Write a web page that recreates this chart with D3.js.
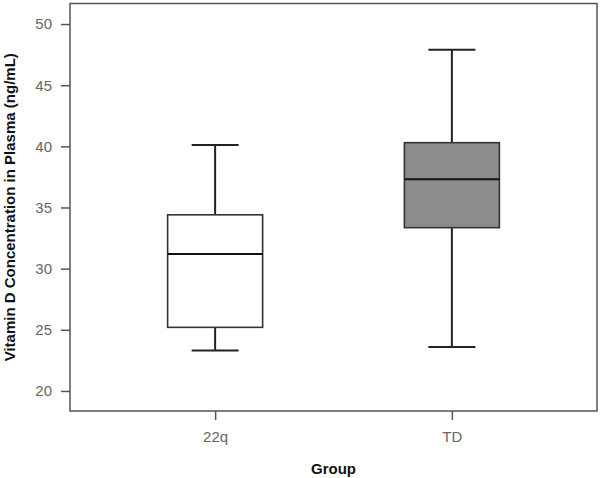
<!DOCTYPE html>
<html>
<head>
<meta charset="utf-8">
<script src="https://cdn.jsdelivr.net/npm/d3@7"></script>
<style>
  body { margin: 0; background: #fff; }
  text { font-family: "Liberation Sans", Arial, sans-serif; }
</style>
</head>
<body>
<div id="chart"></div>
<script>
// data
var groups = ['22q', 'TD'];
var whiskerLow = [23.3, 23.6];
var quart1 = [25.2, 33.35];
var medians = [31.2, 37.3];
var quart3 = [34.4, 40.3];
var whiskerHigh = [40.1, 47.9];
var fills = ['#ffffff', '#8c8c8c'];
var yTicks = [20, 25, 30, 35, 40, 45, 50];

var width = 600;
var height = 478;
var margin = {left: 70, right: 3, top: 3.5, bottom: 67};

var svg = d3.select('#chart')
            .append('svg')
            .attr('width', width)
            .attr('height', height);

var x = d3.scalePoint()
          .domain(groups)
          .range([margin.left, width - margin.right])
          .padding(0.613);

var y = d3.scaleLinear()
          .domain([18.36, 51.68])
          .range([height - margin.bottom, margin.top]);

var boxW = 95;
var capW = 47;

// frame
svg.append('rect')
   .attr('x', margin.left)
   .attr('y', margin.top)
   .attr('width', width - margin.left - margin.right)
   .attr('height', height - margin.top - margin.bottom)
   .attr('fill', 'none')
   .attr('stroke', '#555')
   .attr('stroke-width', 1.5);

// axes
var yAxis = svg.append('g')
   .attr('transform', 'translate(' + margin.left + ',0)')
   .call(d3.axisLeft(y).tickValues(yTicks).tickSize(9).tickPadding(9));

var xAxis = svg.append('g')
   .attr('transform', 'translate(0,' + (height - margin.bottom) + ')')
   .call(d3.axisBottom(x).tickSize(9).tickPadding(11));

[yAxis, xAxis].forEach(function(g){
    g.select('.domain').remove();
    g.selectAll('line').attr('stroke', '#555').attr('stroke-width', 1.5);
    g.selectAll('text')
     .attr('fill', '#666')
     .style('font-size', '15px')
     .style('font-family', '"Liberation Sans", Arial, sans-serif');
});

// boxes
var boxes = svg.selectAll('g.box')
   .data(groups)
   .enter()
   .append('g')
   .attr('class', 'box');

boxes.append('line')
     .attr('x1', function(d){ return x(d); })
     .attr('x2', function(d){ return x(d); })
     .attr('y1', function(d, i){ return y(whiskerLow[i]); })
     .attr('y2', function(d, i){ return y(whiskerHigh[i]); })
     .attr('stroke', '#222')
     .attr('stroke-width', 2);

[whiskerLow, whiskerHigh].forEach(function(arr){
    boxes.append('line')
         .attr('x1', function(d){ return x(d) - capW / 2; })
         .attr('x2', function(d){ return x(d) + capW / 2; })
         .attr('y1', function(d, i){ return y(arr[i]); })
         .attr('y2', function(d, i){ return y(arr[i]); })
         .attr('stroke', '#222')
         .attr('stroke-width', 2);
});

boxes.append('rect')
     .attr('x', function(d){ return x(d) - boxW / 2; })
     .attr('y', function(d, i){ return y(quart3[i]); })
     .attr('width', boxW)
     .attr('height', function(d, i){ return y(quart1[i]) - y(quart3[i]); })
     .attr('fill', function(d, i){ return fills[i]; })
     .attr('stroke', '#333')
     .attr('stroke-width', 1.6);

boxes.append('line')
     .attr('x1', function(d){ return x(d) - boxW / 2; })
     .attr('x2', function(d){ return x(d) + boxW / 2; })
     .attr('y1', function(d, i){ return y(medians[i]); })
     .attr('y2', function(d, i){ return y(medians[i]); })
     .attr('stroke', '#111')
     .attr('stroke-width', 2);

// axis titles
svg.append('text')
   .attr('x', (margin.left + width - margin.right) / 2)
   .attr('y', 474)
   .attr('text-anchor', 'middle')
   .style('font-size', '15px')
   .style('font-weight', 'bold')
   .attr('fill', '#111')
   .text('Group');

svg.append('text')
   .attr('transform', 'translate(15,' + ((margin.top + height - margin.bottom) / 2) + ') rotate(-90)')
   .attr('text-anchor', 'middle')
   .style('font-size', '15px')
   .style('font-weight', 'bold')
   .attr('fill', '#111')
   .text('Vitamin D Concentration in Plasma (ng/mL)');
</script>
</body>
</html>
